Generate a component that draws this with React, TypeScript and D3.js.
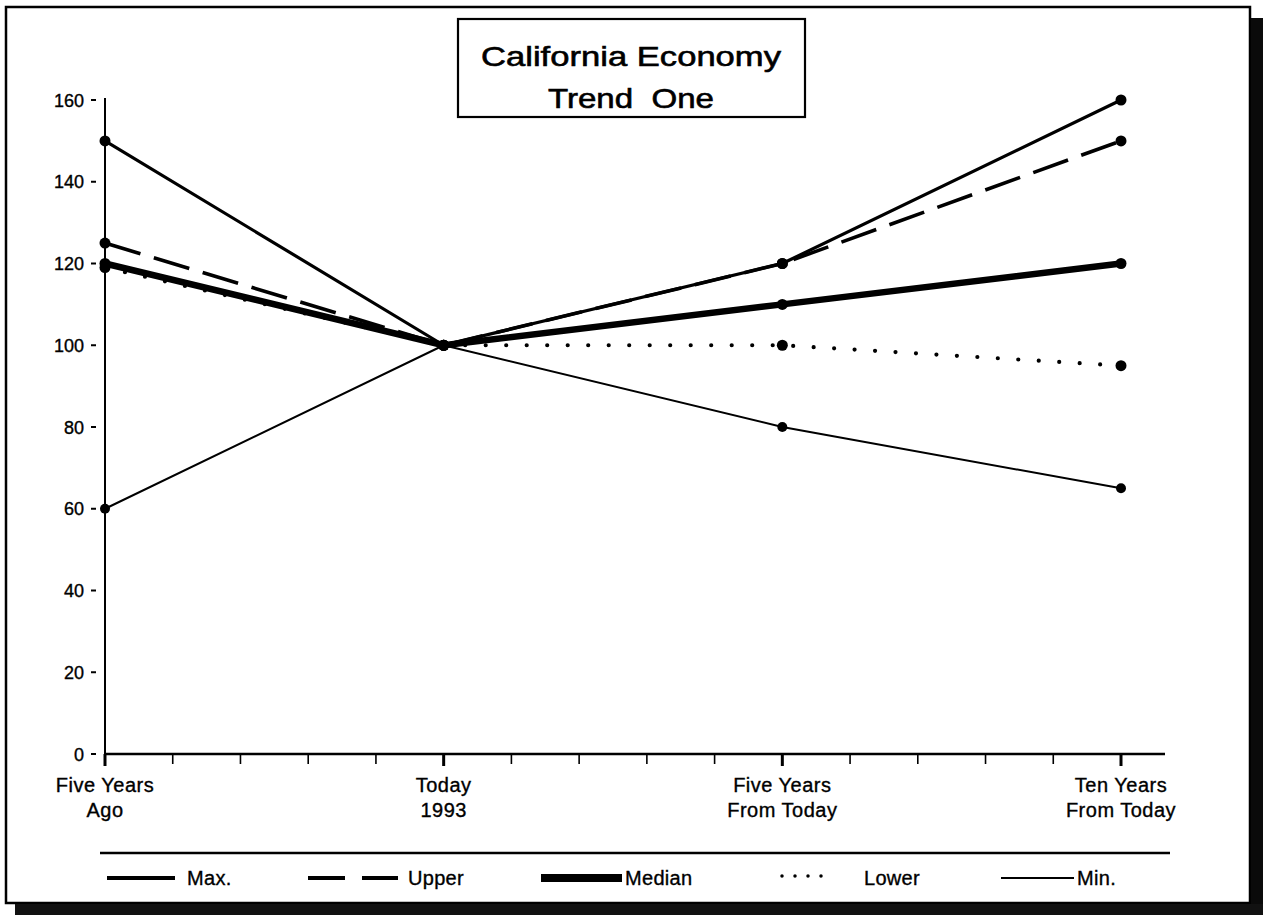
import React from "react";
import * as d3 from "d3";

// Horizon categories along the x axis (two text lines each)
const categories: string[][] = [
  ["Five Years", "Ago"],
  ["Today", "1993"],
  ["Five Years", "From Today"],
  ["Ten Years", "From Today"],
];

// Scenario series, one value per category
const maxValues = [150, 100, 120, 160];
const upperValues = [125, 100, 120, 150];
const medianValues = [120, 100, 110, 120];
const lowerValues = [119, 100, 100, 95];
const minValues = [60, 100, 80, 65];

const yTicks = [0, 20, 40, 60, 80, 100, 120, 140, 160];

const W = 1263;
const H = 915;
const FONT = "'Liberation Sans', Arial, Helvetica, sans-serif";

type Style = {
  width: number;
  dash?: string;
  cap?: "round" | "butt";
  r: number;
};

const styles: Record<string, Style> = {
  "Max.": { width: 3.2, r: 5.5 },
  Upper: { width: 3.6, dash: "37 14", r: 5.5 },
  Median: { width: 6.5, r: 5.5 },
  Lower: { width: 4.2, dash: "0 20.5", cap: "round", r: 5.5 },
  "Min.": { width: 2, r: 5 },
};

const series: { name: string; values: number[] }[] = [
  { name: "Min.", values: minValues },
  { name: "Lower", values: lowerValues },
  { name: "Median", values: medianValues },
  { name: "Upper", values: upperValues },
  { name: "Max.", values: maxValues },
];

const textInk = { fill: "#000", stroke: "#000", strokeWidth: 0.35 };

export default function App() {
  const x = d3.scaleLinear().domain([0, categories.length - 1]).range([105, 1121]);
  const y = d3.scaleLinear().domain([0, 160]).range([754, 100]);
  const axisEnd = 1165;

  // minor ticks every fifth of a category step
  const minorTicks = d3.range(0, (categories.length - 1) * 5 + 1).map((i) => i / 5);

  const line = d3
    .line<number>()
    .x((_, i) => x(i))
    .y((v) => y(v));

  const legendY = 878;
  const legendItems = [
    { name: "Max.", x0: 107, x1: 175, tx: 187 },
    { name: "Upper", x0: 308, x1: 398, tx: 408 },
    { name: "Median", x0: 541, x1: 622, tx: 625 },
    { name: "Lower", x0: 782, x1: 822, tx: 864 },
    { name: "Min.", x0: 1001, x1: 1074, tx: 1077 },
  ];

  return (
    <svg
      width={W}
      height={H}
      viewBox={`0 0 ${W} ${H}`}
      style={{ position: "absolute", left: 0, top: 0, background: "#fff" }}
      fontFamily={FONT}
    >
      <rect x={0} y={0} width={W} height={H} fill="#fff" />

      {/* page frame with dark scanner edges */}
      <path d={`M6,903 L6,7 L1250,7 L1250,903 Z`} fill="none" stroke="#000" strokeWidth={2.5} />
      <rect x={1251} y={18} width={12} height={H - 18} fill="#0a0a0a" />
      <rect x={15} y={904} width={W - 15} height={11} fill="#111" />

      {/* title box */}
      <rect x={458} y={19} width={347} height={98} fill="#fff" stroke="#000" strokeWidth={2.2} />
      <text
        x={631}
        y={66}
        textAnchor="middle"
        fontSize={28}
        textLength={300}
        lengthAdjust="spacingAndGlyphs"
        {...textInk}
        strokeWidth={0.6}
      >
        California Economy
      </text>
      <text
        x={631}
        y={108}
        textAnchor="middle"
        fontSize={28}
        textLength={166}
        lengthAdjust="spacingAndGlyphs"
        {...textInk}
        strokeWidth={0.6}
        style={{ whiteSpace: "pre" }}
      >
        {"Trend  One"}
      </text>

      {/* y axis */}
      <line x1={105} x2={105} y1={98} y2={y(0)} stroke="#000" strokeWidth={2} />
      {yTicks.map((t) => (
        <g key={t}>
          <line x1={91} x2={96} y1={y(t)} y2={y(t)} stroke="#000" strokeWidth={2} />
          <text x={84} y={y(t) + 6.5} textAnchor="end" fontSize={18} {...textInk}>
            {t}
          </text>
        </g>
      ))}

      {/* x axis */}
      <line x1={105} x2={axisEnd} y1={y(0)} y2={y(0)} stroke="#000" strokeWidth={2.5} />
      {minorTicks.map((t) => {
        const major = Math.abs(t - Math.round(t)) < 1e-6;
        return (
          <line
            key={t}
            x1={x(t)}
            x2={x(t)}
            y1={y(0)}
            y2={y(0) + (major ? 12 : 10)}
            stroke="#000"
            strokeWidth={major ? 3 : 1.6}
          />
        );
      })}
      {categories.map((c, i) => (
        <g key={i}>
          {c.map((s, j) => (
            <text
              key={j}
              x={x(i)}
              y={792 + j * 25}
              textAnchor="middle"
              fontSize={20}
              letterSpacing={0.5}
              {...textInk}
            >
              {s}
            </text>
          ))}
        </g>
      ))}

      {/* series lines */}
      {series.map((s) => {
        const st = styles[s.name];
        return (
          <path
            key={s.name}
            d={line(s.values) || ""}
            fill="none"
            stroke="#000"
            strokeWidth={st.width}
            strokeDasharray={st.dash}
            strokeLinecap={st.cap || "butt"}
            strokeLinejoin="round"
          />
        );
      })}
      {/* series markers */}
      {series.map((s) =>
        s.values.map((v, i) => (
          <circle key={s.name + i} cx={x(i)} cy={y(v)} r={styles[s.name].r} fill="#000" />
        ))
      )}

      {/* legend */}
      <line x1={100} x2={1170} y1={853} y2={853} stroke="#000" strokeWidth={2.5} />
      {legendItems.map((it) => {
        const st = styles[it.name];
        let sample: React.ReactNode;
        if (it.name === "Upper") {
          sample = (
            <line x1={it.x0} x2={it.x1} y1={legendY} y2={legendY} stroke="#000" strokeWidth={4} strokeDasharray="37 17" />
          );
        } else if (it.name === "Lower") {
          sample = (
            <line
              x1={it.x0}
              x2={it.x1}
              y1={legendY - 2}
              y2={legendY - 2}
              stroke="#000"
              strokeWidth={3.5}
              strokeDasharray="0 13"
              strokeLinecap="round"
            />
          );
        } else {
          sample = (
            <line
              x1={it.x0}
              x2={it.x1}
              y1={legendY}
              y2={legendY}
              stroke="#000"
              strokeWidth={it.name === "Median" ? 8 : it.name === "Max." ? 4 : st.width}
            />
          );
        }
        return (
          <g key={it.name}>
            {sample}
            <text x={it.tx} y={legendY + 7} fontSize={20} letterSpacing={0.3} {...textInk}>
              {it.name}
            </text>
          </g>
        );
      })}
    </svg>
  );
}
